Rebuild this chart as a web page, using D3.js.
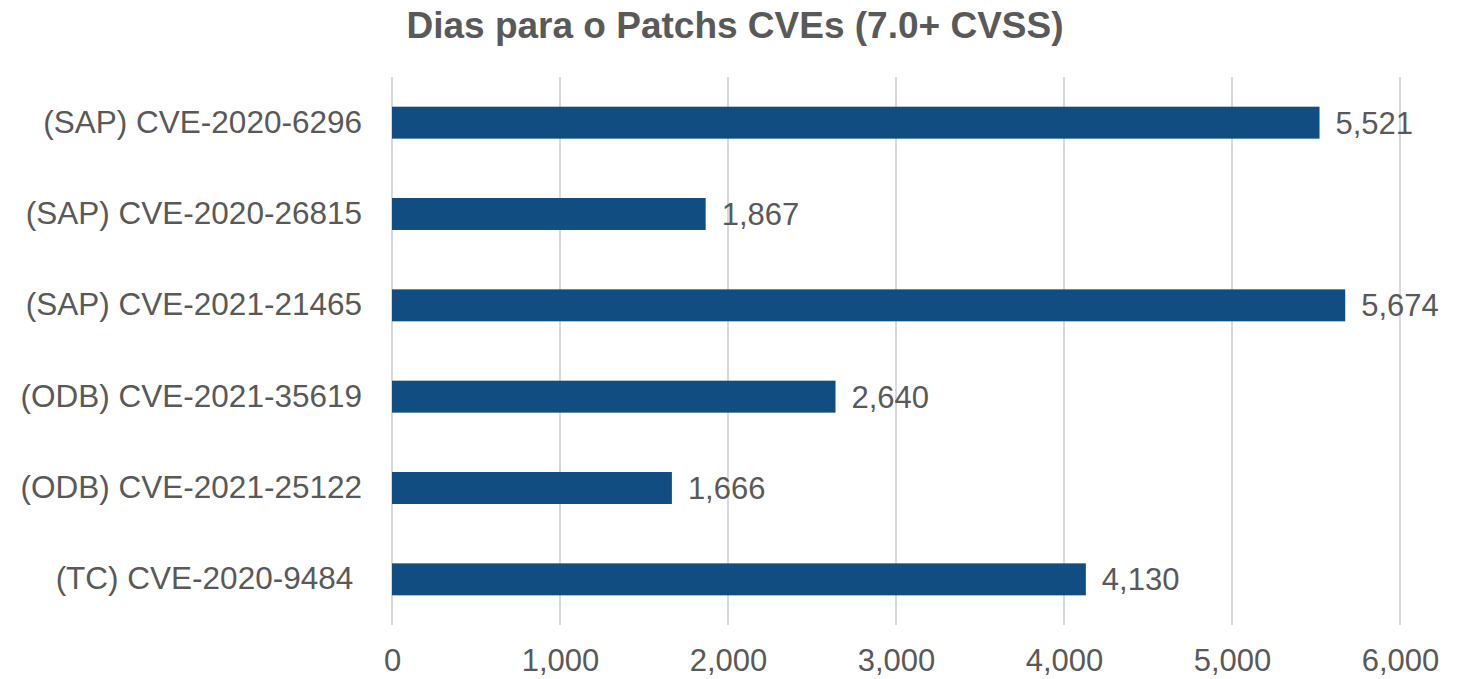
<!DOCTYPE html>
<html>
<head>
<meta charset="utf-8">
<script src="https://cdn.jsdelivr.net/npm/d3@7"></script>
<style>
  body { margin: 0; background: #fff; }
  text { font-family: "Liberation Sans", Arial, sans-serif; fill: #595959; }
</style>
</head>
<body>
<div class="chart"></div>
<script>
// dias para patch por CVE

var categories = [
  "(SAP) CVE-2020-6296",
  "(SAP) CVE-2020-26815",
  "(SAP) CVE-2021-21465",
  "(ODB) CVE-2021-35619",
  "(ODB) CVE-2021-25122",
  "(TC) CVE-2020-9484 "
];
var days = [5521, 1867, 5674, 2640, 1666, 4130];
var xTicks = [0, 1000, 2000, 3000, 4000, 5000, 6000];
var title = "Dias para o Patchs CVEs (7.0+ CVSS)";

var margin = {top: 77, right: 65, bottom: 54, left: 392},
    width = 1465 - margin.left - margin.right,
    height = 679 - margin.top - margin.bottom;

var fmt = d3.format(",");

/* scales */
var x = d3.scaleLinear().domain([0, 6000]).range([0, width]);
var y = d3.scaleBand().domain(categories).range([0, height]).paddingInner(0.65).paddingOuter(0.325);

var svgRoot = d3.select(".chart").append("svg")
    .attr("width", 1465)
    .attr("height", 679);

// title
svgRoot.append("text")
    .attr("x", 735)
    .attr("y", 38)
    .attr("text-anchor", "middle")
    .style("font-size", "37px")
    .style("font-weight", "bold")
    .text(title);

var svg = svgRoot.append("g")
    .attr("transform", "translate(" + margin.left + "," + margin.top + ")");

/* gridlines */
svg.selectAll(".grid")
    .data(xTicks)
    .enter().append("line")
    .attr("x1", function(d) { return x(d); })
    .attr("x2", function(d) { return x(d); })
    .attr("y1", 0)
    .attr("y2", height)
    .attr("stroke", "#d9d9d9")
    .attr("stroke-width", 2);

// x axis
var xAxis = svg.append("g")
    .attr("transform", "translate(0," + height + ")")
    .call(d3.axisBottom(x).tickValues(xTicks).tickFormat(fmt).tickSize(0).tickPadding(24));
xAxis.select(".domain").remove();
xAxis.selectAll("text").style("font-size", "31px").attr("fill", "#595959");

// y axis
var yAxis = svg.append("g")
    .call(d3.axisLeft(y).tickSize(0).tickPadding(30));
yAxis.select(".domain").remove();
yAxis.selectAll("text")
    .style("font-size", "31.5px")
    .style("white-space", "pre")
    .attr("fill", "#595959");

/* bars */
svg.selectAll(".bar")
    .data(days)
    .enter().append("rect")
    .attr("x", 0)
    .attr("y", function(d, i) { return y(categories[i]); })
    .attr("width", function(d) { return x(d); })
    .attr("height", y.bandwidth())
    .attr("fill", "#114d81");

// value labels
svg.selectAll(".val")
    .data(days)
    .enter().append("text")
    .attr("x", function(d) { return x(d) + 16; })
    .attr("y", function(d, i) { return y(categories[i]) + y.bandwidth() / 2; })
    .attr("dy", "0.35em")
    .style("font-size", "31px")
    .text(function(d) { return fmt(d); });
</script>
</body>
</html>
